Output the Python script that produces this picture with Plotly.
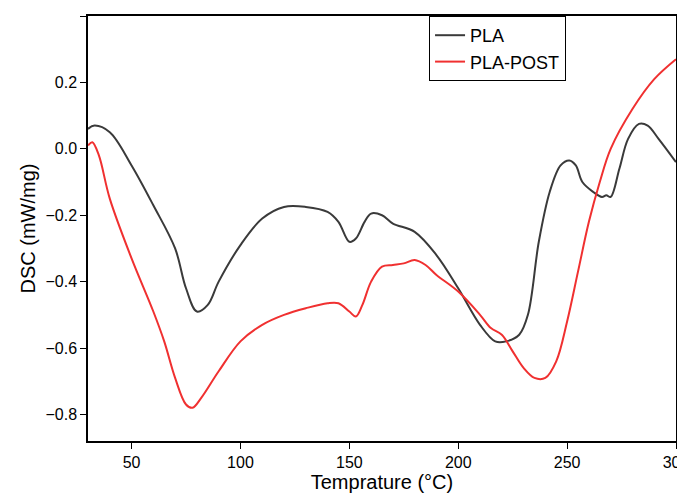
import plotly.graph_objects as go

pla_x = [30, 33, 40, 50, 60, 70, 75, 80, 85, 90, 100, 110, 120, 130, 140, 145, 150, 153, 157, 160,
         165, 170, 180, 190, 200, 210, 217, 222, 228, 232, 237, 242, 247, 251, 254, 257, 262, 266,
         268, 270, 274, 278, 283, 287, 292, 300]
pla_y = [0.06, 0.07, 0.05, -0.05, -0.17, -0.30, -0.42, -0.49, -0.47, -0.40, -0.29, -0.21, -0.175,
         -0.175, -0.19, -0.22, -0.28, -0.27, -0.22, -0.195, -0.20, -0.225, -0.25, -0.32, -0.42,
         -0.53, -0.58, -0.58, -0.56, -0.50, -0.28, -0.13, -0.05, -0.035, -0.05, -0.10, -0.13,
         -0.145, -0.14, -0.145, -0.06, 0.03, 0.075, 0.07, 0.03, -0.04]

post_x = [30, 32, 35, 40, 50, 60, 65, 70, 75, 78, 82, 90, 100, 110, 120, 130, 140, 145, 150, 153,
          156, 160, 165, 170, 175, 180, 185, 190, 200, 210, 215, 220, 225, 230, 235, 240, 245,
          250, 255, 260, 265, 270, 280, 290, 300]
post_y = [0.01, 0.02, -0.02, -0.15, -0.33, -0.49, -0.58, -0.69, -0.77, -0.78, -0.75, -0.67, -0.58,
          -0.53, -0.50, -0.48, -0.465, -0.465, -0.49, -0.505, -0.47, -0.40, -0.355, -0.35, -0.345,
          -0.335, -0.35, -0.38, -0.43, -0.50, -0.54, -0.56, -0.61, -0.66, -0.69, -0.69, -0.64,
          -0.52, -0.37, -0.22, -0.10, 0.0, 0.12, 0.21, 0.27]

fig = go.Figure()
fig.add_trace(go.Scatter(x=pla_x, y=pla_y, name="PLA", mode="lines",
                         line=dict(color="#3a3a3a", width=2, shape="spline")))
fig.add_trace(go.Scatter(x=post_x, y=post_y, name="PLA-POST", mode="lines",
                         line=dict(color="#f03030", width=2, shape="spline")))

axis = dict(showline=True, linecolor="black", linewidth=1.5, mirror=True, ticks="outside",
            ticklen=6, tickcolor="black", showgrid=False, zeroline=False, automargin=False,
            tickfont=dict(size=16, color="black"), title_font=dict(size=20, color="black"))
fig.update_xaxes(range=[30, 300], dtick=50, title_text="Temprature (°C)", title_standoff=4, **axis)
fig.update_yaxes(range=[-0.88, 0.4], dtick=0.2, tickformat=".1f", title_text="DSC (mW/mg)",
                 title_standoff=4, **axis)
fig.update_layout(
    width=685, height=500, plot_bgcolor="white", paper_bgcolor="white",
    font=dict(family="Liberation Sans, Arial", color="black"),
    margin=dict(l=80, r=17, t=8, b=67),
    legend=dict(x=0.58, y=1, xanchor="left", yanchor="top", bordercolor="black", borderwidth=1,
                font=dict(size=18), bgcolor="white"),
)
fig.write_html("out.html")
